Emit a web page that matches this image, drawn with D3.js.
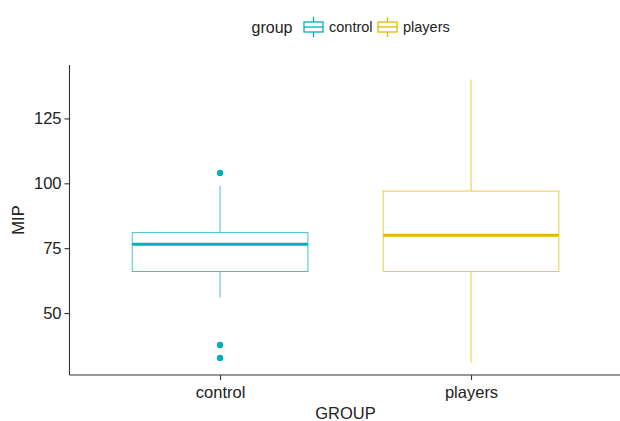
<!DOCTYPE html>
<html>
<head>
<meta charset="utf-8">
<script src="https://cdn.jsdelivr.net/npm/d3@7"></script>
<style>
  html, body { margin: 0; padding: 0; background: #fff; }
  svg { display: block; font-family: "Liberation Sans", Arial, sans-serif; }
</style>
</head>
<body>
<svg id="chart" width="620" height="421"></svg>
<script>
// Box plot summaries of MIP by group
const groups = ["control", "players"];
const colors = ["#00AFBB", "#E7B800"];
const whiskerLow = [56, 31];
const q1 = [66, 66];
const median = [76.5, 80];
const q3 = [81, 97];
const whiskerHigh = [99, 140];
const outliers = [[104, 37.7, 32.7], []];
const yTicks = [50, 75, 100, 125];

const svg = d3.select("#chart");

const plotLeft = 69.5, plotRight = 621.6, plotTop = 65, plotBottom = 375;

const x = d3.scalePoint().domain(groups).range([plotLeft, plotRight]).padding(0.6);
const y = d3.scaleLinear().domain([26.1, 145.6]).range([plotBottom, plotTop]);
const boxW = x.step() * 0.7;

const rows = groups.map((g, i) => ({
  g, color: colors[i], lo: whiskerLow[i], q1: q1[i], med: median[i],
  q3: q3[i], hi: whiskerHigh[i], out: outliers[i]
}));

// Axes
const yAxis = svg.append("g")
  .attr("transform", `translate(${plotLeft},0)`)
  .call(d3.axisLeft(y).tickValues(yTicks).tickSize(5).tickPadding(3));
yAxis.select(".domain").attr("d", `M0,${plotTop}V${plotBottom}`);

const xAxis = svg.append("g")
  .attr("transform", `translate(0,${plotBottom})`)
  .call(d3.axisBottom(x).tickSize(5).tickPadding(6));
xAxis.select(".domain").attr("d", `M${plotLeft},0H${plotRight}`);

svg.selectAll(".domain, .tick line").attr("stroke", "#333").attr("stroke-width", 1.1);
svg.selectAll(".tick text").attr("fill", "#222").style("font-size", "16.5px");

// Boxes
const box = svg.append("g").selectAll("g").data(rows).join("g");

box.append("line")
  .attr("x1", d => x(d.g)).attr("x2", d => x(d.g))
  .attr("y1", d => y(d.hi)).attr("y2", d => y(d.q3))
  .attr("stroke", d => d.color).attr("stroke-width", 1).attr("opacity", 0.75);
box.append("line")
  .attr("x1", d => x(d.g)).attr("x2", d => x(d.g))
  .attr("y1", d => y(d.q1)).attr("y2", d => y(d.lo))
  .attr("stroke", d => d.color).attr("stroke-width", 1).attr("opacity", 0.75);
box.append("rect")
  .attr("x", d => x(d.g) - boxW / 2).attr("width", boxW)
  .attr("y", d => y(d.q3)).attr("height", d => y(d.q1) - y(d.q3))
  .attr("fill", "#fff").attr("stroke", d => d.color).attr("stroke-width", 1).attr("stroke-opacity", 0.75);
box.append("line")
  .attr("x1", d => x(d.g) - boxW / 2).attr("x2", d => x(d.g) + boxW / 2)
  .attr("y1", d => y(d.med)).attr("y2", d => y(d.med))
  .attr("stroke", d => d.color).attr("stroke-width", 3);
box.selectAll("circle").data(d => d.out.map(v => ({ v, d }))).join("circle")
  .attr("cx", o => x(o.d.g)).attr("cy", o => y(o.v)).attr("r", 3.2)
  .attr("fill", o => o.d.color);

// Axis titles
svg.append("text").attr("x", (plotLeft + plotRight) / 2).attr("y", 418.5)
  .attr("text-anchor", "middle").attr("fill", "#222").style("font-size", "16.5px").text("GROUP");
svg.append("text").attr("transform", "translate(24,220) rotate(-90)")
  .attr("text-anchor", "middle").attr("fill", "#222").style("font-size", "16.5px").text("MIP");

// Legend
const lg = svg.append("g");
lg.append("text").attr("x", 251.5).attr("y", 33).attr("fill", "#222")
  .style("font-size", "16px").text("group");
const keyX = [303, 377], labX = [329, 403];
rows.forEach((d, i) => {
  const k = lg.append("g").attr("transform", `translate(${keyX[i]},17)`)
    .attr("stroke", d.color).attr("fill", "none").attr("stroke-width", 1.3);
  k.append("line").attr("x1", 10.5).attr("x2", 10.5).attr("y1", 0).attr("y2", 5);
  k.append("line").attr("x1", 10.5).attr("x2", 10.5).attr("y1", 15).attr("y2", 20);
  k.append("rect").attr("x", 1).attr("y", 5).attr("width", 19).attr("height", 10);
  k.append("line").attr("x1", 1).attr("x2", 20).attr("y1", 10).attr("y2", 10);
  lg.append("text").attr("x", labX[i]).attr("y", 32).attr("fill", "#222")
    .style("font-size", "14.5px").text(d.g);
});
</script>
</body>
</html>
